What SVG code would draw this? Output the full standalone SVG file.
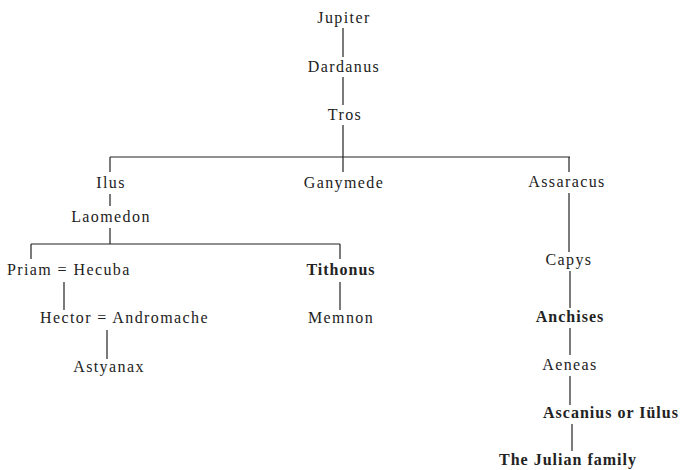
<svg xmlns="http://www.w3.org/2000/svg" width="682" height="470" viewBox="0 0 682 470">
<style>
text{font-family:"Liberation Serif","DejaVu Serif",serif;font-size:16px;fill:#222;letter-spacing:1.4px}
.c{text-anchor:middle}
.b{font-weight:bold;letter-spacing:1px}
.ln line{stroke:#222;stroke-width:1.2}
</style>
<rect width="682" height="470" fill="#fff"/>
<g id="connectors" class="ln">
<line x1="343" y1="28" x2="343" y2="57"/>
<line x1="343" y1="77" x2="343" y2="105"/>
<line x1="343" y1="125" x2="343" y2="172"/>
<line x1="110" y1="157" x2="570" y2="157"/>
<line x1="110" y1="157" x2="110" y2="172"/>
<line x1="569" y1="157" x2="569" y2="172"/>
<line x1="110" y1="194" x2="110" y2="206"/>
<line x1="110" y1="228" x2="110" y2="244"/>
<line x1="31" y1="244" x2="340" y2="244"/>
<line x1="31" y1="244" x2="31" y2="259"/>
<line x1="340" y1="244" x2="340" y2="259"/>
<line x1="64" y1="282" x2="64" y2="310"/>
<line x1="107" y1="330" x2="107" y2="359"/>
<line x1="340" y1="282" x2="340" y2="310"/>
<line x1="569" y1="193" x2="569" y2="252"/>
<line x1="570" y1="271" x2="570" y2="308"/>
<line x1="570" y1="328" x2="570" y2="355"/>
<line x1="570" y1="376" x2="570" y2="405"/>
<line x1="572" y1="424" x2="572" y2="451"/>
</g>
<g id="jupiter"><text class="c" x="344" y="23">Jupiter</text></g>
<g id="dardanus"><text class="c" x="344" y="72">Dardanus</text></g>
<g id="tros"><text class="c" x="345" y="120">Tros</text></g>
<g id="ilus"><text class="c" x="111" y="188">Ilus</text></g>
<g id="ganymede"><text class="c" x="344" y="188">Ganymede</text></g>
<g id="assaracus"><text class="c" x="567" y="187">Assaracus</text></g>
<g id="laomedon"><text class="c" x="111" y="222">Laomedon</text></g>
<g id="priam"><text x="7" y="275">Priam = Hecuba</text></g>
<g id="tithonus"><text class="c b" x="341" y="275">Tithonus</text></g>
<g id="hector"><text x="40" y="323">Hector = Andromache</text></g>
<g id="memnon"><text class="c" x="341" y="323">Memnon</text></g>
<g id="astyanax"><text class="c" x="109" y="372">Astyanax</text></g>
<g id="capys"><text class="c" x="569" y="265">Capys</text></g>
<g id="anchises"><text class="c b" x="570" y="322">Anchises</text></g>
<g id="aeneas"><text class="c" x="570" y="370">Aeneas</text></g>
<g id="ascanius"><text class="c b" x="611" y="418">Ascanius or Iülus</text></g>
<g id="julian"><text class="c b" x="568" y="465">The Julian family</text></g>
</svg>
